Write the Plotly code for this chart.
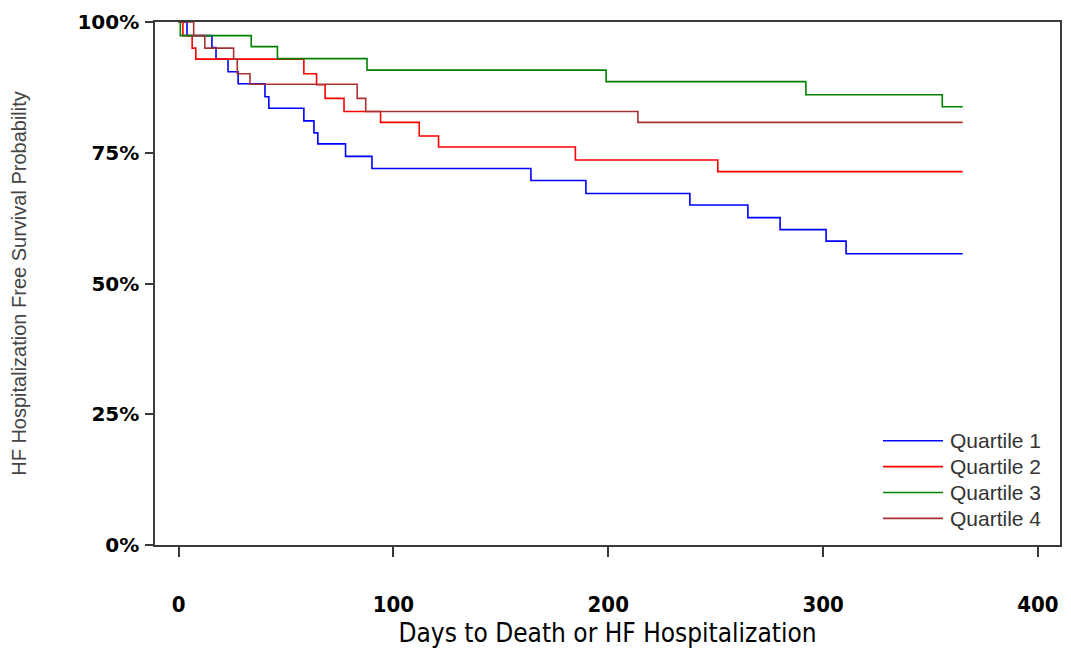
import plotly.graph_objects as go

# ---- data ----
series_names = ["Quartile 1", "Quartile 2", "Quartile 3", "Quartile 4"]
series_colors = ["#0000FF", "#FF0000", "#008000", "#A83232"]

q1_days = [0, 3.9, 15.5, 17.4, 23, 27.7, 40.2, 42, 58.3, 63, 64.8, 77.7, 90, 164, 189.6, 238, 265, 280, 301.4, 310.7, 365]
q1_surv = [1.0, 0.974, 0.951, 0.929, 0.905, 0.882, 0.857, 0.835, 0.811, 0.788, 0.767, 0.743, 0.720, 0.697, 0.672, 0.650, 0.626, 0.603, 0.581, 0.557, 0.557]

q2_days = [0, 2, 6.3, 8, 58.3, 64.2, 68.2, 77, 94, 112, 121, 184.7, 251, 365]
q2_surv = [1.0, 0.974, 0.950, 0.929, 0.901, 0.880, 0.854, 0.829, 0.808, 0.782, 0.761, 0.736, 0.714, 0.714]

q3_days = [0, 0.8, 33.8, 46, 87.7, 199, 292, 355.5, 365]
q3_surv = [1.0, 0.974, 0.953, 0.930, 0.908, 0.886, 0.861, 0.838, 0.838]

q4_days = [0, 7, 12.2, 25.6, 27.3, 33.2, 83.1, 87.1, 213.8, 365]
q4_surv = [1.0, 0.974, 0.950, 0.929, 0.901, 0.881, 0.854, 0.829, 0.808, 0.808]

x_ticks = [0, 100, 200, 300, 400]
y_ticks = [0, 0.25, 0.5, 0.75, 1.0]
y_tick_labels = ["0%", "25%", "50%", "75%", "100%"]

x_title = "Days to Death or HF Hospitalization"
y_title = "HF Hospitalization Free Survival Probability"

all_days = [q1_days, q2_days, q3_days, q4_days]
all_surv = [q1_surv, q2_surv, q3_surv, q4_surv]

# ---- layout constants (pixels); page body has an 8px margin ----
OFF = 8
W, H = 1071 - OFF, 650 - OFF
PLOT_L, PLOT_R, PLOT_T, PLOT_B = 155, 1060, 22, 545   # page coordinates
ML = PLOT_L - OFF
MT = PLOT_T - OFF
MR = W - (PLOT_R - OFF)
MB = H - (PLOT_B - OFF)
PW = PLOT_R - PLOT_L
PH = PLOT_B - PLOT_T

fig = go.Figure()
for name, color, d, s in zip(series_names, series_colors, all_days, all_surv):
    fig.add_trace(go.Scatter(x=d, y=s, mode="lines", name=name,
                             line=dict(color=color, width=1.6, shape="hv"),
                             showlegend=False))

# manual legend (long sample lines like the reference)
def px_x(px):
    return (px - PLOT_L) / PW

def px_y(py):
    return (PLOT_B - py) / PH

leg_top = 440.7
leg_step = 25.9
for i, (name, color) in enumerate(zip(series_names, series_colors)):
    yy = px_y(leg_top + i * leg_step)
    fig.add_shape(type="line", xref="paper", yref="paper",
                  x0=px_x(883), x1=px_x(943), y0=yy, y1=yy,
                  line=dict(color=color, width=1.6))
    fig.add_annotation(xref="paper", yref="paper", x=px_x(948), y=yy,
                       text=name, showarrow=False, xanchor="left", yanchor="middle",
                       font=dict(family="Liberation Sans, Arial, sans-serif", size=21, color="#333333"))

axis_color = "#3a3a3a"
cond = "DejaVu Sans Condensed, Liberation Sans Narrow, Liberation Sans, sans-serif"
fig.update_layout(
    width=W, height=H,
    margin=dict(l=ML, r=MR, t=MT, b=MB, autoexpand=False),
    paper_bgcolor="white", plot_bgcolor="white",
    showlegend=False,
    xaxis=dict(range=[-11, 410.3], tickvals=x_ticks, ticks="outside", ticklen=10,
               tickwidth=1.5, tickcolor=axis_color, showline=True, linecolor=axis_color,
               linewidth=1.5, mirror=True, showgrid=False, zeroline=False,
               ticklabelstandoff=29,
               tickfont=dict(family=cond, size=22, color="#000000", weight="bold"),
               title=dict(text=x_title, standoff=8,
                          font=dict(family=cond, size=26, color="#000000")),
               automargin=False),
    yaxis=dict(range=[0, 1], tickvals=y_ticks, ticktext=y_tick_labels, ticks="outside",
               ticklen=8, tickwidth=1.5, tickcolor=axis_color, showline=True,
               linecolor=axis_color, linewidth=1.5, mirror=True, showgrid=False,
               zeroline=False, ticklabelstandoff=2,
               tickfont=dict(family="DejaVu Sans, sans-serif", size=20, color="#000000",
                             weight="bold"),
               title=dict(text=y_title, standoff=54,
                          font=dict(family="Liberation Sans, Arial, sans-serif", size=20,
                                    color="#444444")),
               automargin=False),
)

fig.write_html("out.html")
